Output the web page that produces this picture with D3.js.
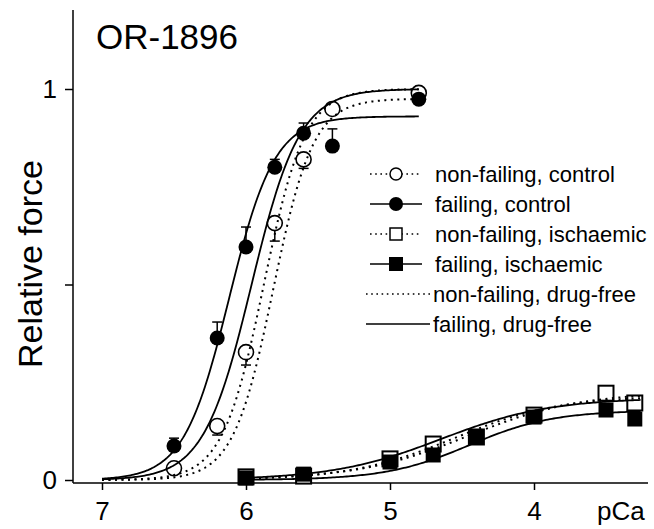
<!DOCTYPE html>
<html><head><meta charset="utf-8">
<script src="https://cdn.jsdelivr.net/npm/d3@7"></script>
<style>
html,body{margin:0;padding:0;background:#fff;}
svg{display:block;font-family:Arial,"Liberation Sans",Helvetica,sans-serif;}
</style></head><body>
<svg id="chart" width="654" height="529"></svg>
<script>
// pCa steps of the control experiments (circles)
const circlePCa = [6.5, 6.2, 6.0, 5.8, 5.6, 5.4, 4.8];
const nonFailingControl    = [0.030, 0.138, 0.327, 0.657, 0.820, 0.949, 0.990];
const nonFailingControlSem = [0.015, 0.023, 0.033, 0.046, 0.023, 0.010, 0.000];
const failingControl       = [0.087, 0.363, 0.596, 0.800, 0.887, 0.854, 0.974];
const failingControlSem    = [0.020, 0.041, 0.051, 0.020, 0.026, 0.044, 0.000];

// pCa steps of the ischaemic experiments (squares)
const squarePCa = [6.0, 5.6, 5.0, 4.7, 4.4, 4.0, 3.5, 3.3];
const nonFailingIschaemic = [0.008, 0.010, 0.054, 0.092, 0.110, 0.166, 0.222, 0.197];
const failingIschaemic    = [0.005, 0.015, 0.046, 0.064, 0.110, 0.161, 0.179, 0.156];

// Hill fits: F = Fmax / (1 + 10^(nH * (pCa - pCa50)))
const fitFmax   = [1.000, 0.930, 0.975, 1.000, 0.225, 0.215, 0.210, 0.178];
const fitPCa50  = [5.876, 6.117, 5.811, 5.961, 4.460, 4.550, 4.644, 4.450];
const fitHill   = [3.03, 2.75, 3.12, 2.61, 1.12, 1.20, 1.147, 1.50];
const fitDotted = [true, false, true, false, true, true, false, false];
const fitFrom   = [7.0, 7.0, 7.0, 7.0, 6.0, 6.0, 6.0, 6.0];
const fitTo     = [4.8, 4.8, 4.8, 4.8, 3.26, 3.26, 3.26, 3.26];

const xTicks = [7, 6, 5, 4];
const yTicks = [0, 0.5, 1];
const yTickLabels = ["0", "", "1"];

const legendLabels = ["non-failing, control", "failing, control", "non-failing, ischaemic",
                      "failing, ischaemic", "non-failing, drug-free", "failing, drug-free"];
const legendMarker = ["openCircle", "filledCircle", "openSquare", "filledSquare", "none", "none"];
const legendDotted = [true, false, true, false, true, false];

const svg = d3.select("#chart");
const x = d3.scaleLinear().domain([7, 4]).range([102, 534]);
const y = d3.scaleLinear().domain([0, 1]).range([480, 89]);

// spines
svg.append("line").attr("x1", 73).attr("x2", 73).attr("y1", 10).attr("y2", 483)
  .attr("stroke", "#000").attr("stroke-width", 1.5);
svg.append("line").attr("x1", 73).attr("x2", 648).attr("y1", 483).attr("y2", 483)
  .attr("stroke", "#000").attr("stroke-width", 1.5);

const yAxis = svg.append("g").attr("transform", "translate(73,0)")
  .call(d3.axisLeft(y).tickValues(yTicks).tickFormat((d, i) => yTickLabels[i])
    .tickSize(8).tickPadding(8));
const xAxis = svg.append("g").attr("transform", "translate(0,483)")
  .call(d3.axisBottom(x).tickValues(xTicks).tickFormat(d3.format("d"))
    .tickSize(7).tickPadding(12));
[yAxis, xAxis].forEach(g => {
  g.select(".domain").remove();
  g.selectAll("line").attr("stroke", "#000").attr("stroke-width", 1.5);
  g.selectAll("text").attr("font-size", 26).attr("fill", "#000")
    .attr("font-family", "Arial, 'Liberation Sans', sans-serif");
});

svg.append("text").attr("x", 597).attr("y", 520).attr("font-size", 26).text("pCa");
svg.append("text").attr("x", 96).attr("y", 49).attr("font-size", 35).text("OR-1896");
svg.append("text").attr("transform", "translate(42,264) rotate(-90)")
  .attr("text-anchor", "middle").attr("font-size", 34).text("Relative force");

// markers
const R = 7.5, S = 15;
function errorBars(pcas, vals, sems, dir) {
  const g = svg.append("g").attr("stroke", "#000").attr("stroke-width", 1.5);
  pcas.forEach((p, i) => {
    if (!sems[i]) return;
    const x0 = x(p), yEnd = y(vals[i] + dir * sems[i]);
    g.append("line").attr("x1", x0).attr("x2", x0).attr("y1", y(vals[i])).attr("y2", yEnd);
    g.append("line").attr("x1", x0 - 5).attr("x2", x0 + 5).attr("y1", yEnd).attr("y2", yEnd);
  });
}
errorBars(circlePCa, nonFailingControl, nonFailingControlSem, -1);
errorBars(circlePCa, failingControl, failingControlSem, 1);

svg.append("g").selectAll("rect").data(squarePCa).join("rect")
  .attr("x", (d) => x(d) - S / 2).attr("y", (d, i) => y(nonFailingIschaemic[i]) - S / 2)
  .attr("width", S).attr("height", S)
  .attr("fill", "#fff").attr("stroke", "#000").attr("stroke-width", 2);
svg.append("g").selectAll("circle").data(circlePCa).join("circle")
  .attr("cx", (d) => x(d)).attr("cy", (d, i) => y(nonFailingControl[i])).attr("r", R)
  .attr("fill", "#fff").attr("stroke", "#000").attr("stroke-width", 1.6);
svg.append("g").selectAll("rect").data(squarePCa).join("rect")
  .attr("x", (d) => x(d) - S / 2).attr("y", (d, i) => y(failingIschaemic[i]) - S / 2)
  .attr("width", S).attr("height", S).attr("fill", "#000");
svg.append("g").selectAll("circle").data(circlePCa).join("circle")
  .attr("cx", (d) => x(d)).attr("cy", (d, i) => y(failingControl[i])).attr("r", R)
  .attr("fill", "#000");

// fitted curves
const line = d3.line().x(d => x(d[0])).y(d => y(d[1])).curve(d3.curveLinear);
fitFmax.forEach((fmax, k) => {
  const pts = [];
  const n = 200;
  for (let j = 0; j <= n; j++) {
    const p = fitFrom[k] + (fitTo[k] - fitFrom[k]) * j / n;
    pts.push([p, fmax / (1 + Math.pow(10, fitHill[k] * (p - fitPCa50[k])))]);
  }
  svg.append("path").attr("d", line(pts)).attr("fill", "none").attr("stroke", "#000")
    .attr("stroke-width", fitDotted[k] ? 2 : 1.8)
    .attr("stroke-dasharray", fitDotted[k] ? "2,4.5" : null);
});

// legend
const lg = svg.append("g");
legendLabels.forEach((lab, i) => {
  const cy = 174 + i * 30;
  const isSample = legendMarker[i] === "none";
  const x1 = isSample ? 366 : 370, x2 = isSample ? 430 : 422;
  lg.append("line").attr("x1", x1).attr("x2", x2).attr("y1", cy).attr("y2", cy)
    .attr("stroke", "#000").attr("stroke-width", legendDotted[i] ? 1.6 : 1.6)
    .attr("stroke-dasharray", legendDotted[i] ? "1.6,3.6" : null);
  const mx = 396;
  if (legendMarker[i] === "openCircle")
    lg.append("circle").attr("cx", mx).attr("cy", cy).attr("r", 6).attr("fill", "#fff")
      .attr("stroke", "#000").attr("stroke-width", 1.5);
  if (legendMarker[i] === "filledCircle")
    lg.append("circle").attr("cx", mx).attr("cy", cy).attr("r", 7).attr("fill", "#000");
  if (legendMarker[i] === "openSquare")
    lg.append("rect").attr("x", mx - 6).attr("y", cy - 6).attr("width", 12).attr("height", 12)
      .attr("fill", "#fff").attr("stroke", "#000").attr("stroke-width", 1.5);
  if (legendMarker[i] === "filledSquare")
    lg.append("rect").attr("x", mx - 7).attr("y", cy - 7).attr("width", 14).attr("height", 14)
      .attr("fill", "#000");
  lg.append("text").attr("x", isSample ? 433 : 435).attr("y", cy).attr("dy", "0.35em")
    .attr("font-size", 22).text(lab);
});
</script>
</body></html>
